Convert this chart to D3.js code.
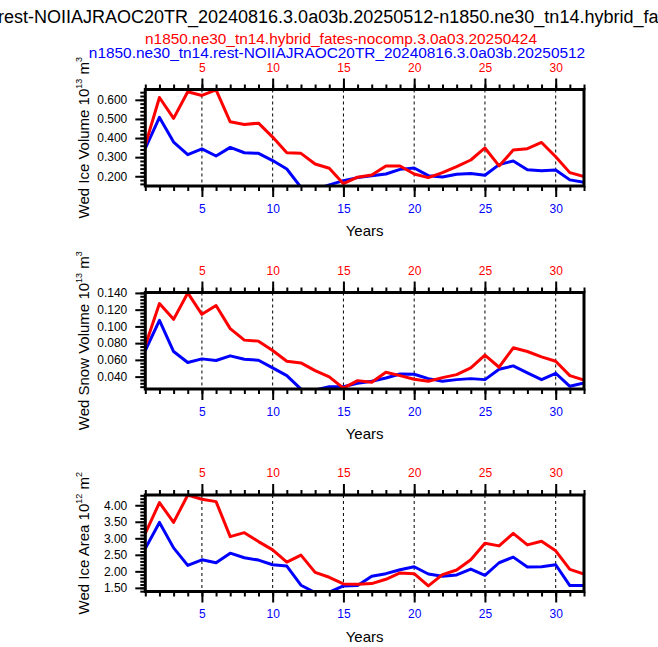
<!DOCTYPE html>
<html>
<head>
<meta charset="utf-8">
<script src="https://cdn.jsdelivr.net/npm/d3@7/dist/d3.min.js"></script>
<style>
  body { margin: 0; background: #fff; }
  text { font-family: "Liberation Sans", Arial, Helvetica, sans-serif; }
</style>
</head>
<body>
<div id="visContainer"></div>
<script>
var width = 658, height = 647;

// ---- data ----
var years = [1,2,3,4,5,6,7,8,9,10,11,12,13,14,15,16,17,18,19,20,21,22,23,24,25,26,27,28,29,30,31,32];
var xLabels = [5,10,15,20,25,30];

var titleText = "n1850.ne30_tn14.rest-NOIIAJRAOC20TR_20240816.3.0a03b.20250512-n1850.ne30_tn14.hybrid_fates-nocomp.3.0a03.20250424";
var titleHidden = "n1850.ne30_tn14.";
var redCase = "n1850.ne30_tn14.hybrid_fates-nocomp.3.0a03.20250424";
var blueCase = "n1850.ne30_tn14.rest-NOIIAJRAOC20TR_20240816.3.0a03b.20250512";

var iceVolRed = [0.363,0.612,0.503,0.642,0.623,0.652,0.485,0.471,0.478,0.405,0.323,0.320,0.264,0.242,0.161,0.195,
                 0.207,0.254,0.254,0.212,0.193,0.219,0.250,0.285,0.348,0.254,0.337,0.344,0.377,0.302,0.219,0.198];
var iceVolBlue = [0.346,0.508,0.379,0.313,0.343,0.306,0.351,0.323,0.320,0.282,0.238,0.142,0.130,0.155,0.177,0.193,
                  0.203,0.212,0.236,0.243,0.203,0.196,0.210,0.214,0.205,0.261,0.280,0.234,0.229,0.233,0.181,0.169];
var iceVolTicks = [0.2,0.3,0.4,0.5,0.6];

var snowVolRed = [0.0772,0.1273,0.1084,0.1400,0.1144,0.1249,0.0973,0.0836,0.0824,0.0712,0.0584,0.0564,0.0472,0.0396,0.0262,0.0352,
                  0.0332,0.0452,0.0412,0.0368,0.0344,0.0388,0.0424,0.0504,0.0656,0.0512,0.0744,0.0700,0.0636,0.0584,0.0412,0.0360];
var snowVolBlue = [0.0712,0.1072,0.0700,0.0568,0.0612,0.0592,0.0648,0.0608,0.0596,0.0504,0.0412,0.0250,0.0240,0.0280,0.0280,0.0320,
                   0.0344,0.0384,0.0432,0.0428,0.0376,0.0344,0.0364,0.0376,0.0364,0.0488,0.0528,0.0444,0.0364,0.0440,0.0284,0.0324];
var snowVolTicks = [0.04,0.06,0.08,0.10,0.12,0.14];

var iceAreaRed = [3.15,4.08,3.48,4.31,4.18,4.11,3.05,3.17,2.90,2.65,2.28,2.49,1.97,1.82,1.62,1.61,
                  1.63,1.76,1.95,1.93,1.56,1.90,2.04,2.35,2.85,2.77,3.15,2.80,2.91,2.62,2.06,1.92];
var iceAreaBlue = [2.69,3.48,2.71,2.18,2.35,2.26,2.55,2.41,2.34,2.20,2.16,1.58,1.36,1.37,1.56,1.57,
                   1.85,1.93,2.05,2.14,1.92,1.85,1.89,2.07,1.88,2.26,2.43,2.13,2.14,2.20,1.57,1.57];
var iceAreaTicks = [1.5,2.0,2.5,3.0,3.5,4.0];

var panels = [
  { name: "Wed Ice Volume ", p10: "13", unit: "3", red: iceVolRed, blue: iceVolBlue,
    yMin: 0.149, yMax: 0.654, ticks: iceVolTicks, minor: 0.02, fmt: ".3f", top: 89.5 },
  { name: "Wed Snow Volume ", p10: "13", unit: "3", red: snowVolRed, blue: snowVolBlue,
    yMin: 0.0252, yMax: 0.1405, ticks: snowVolTicks, minor: 0.004, fmt: ".3f", top: 292.5 },
  { name: "Wed Ice Area ", p10: "12", unit: "2", red: iceAreaRed, blue: iceAreaBlue,
    yMin: 1.39, yMax: 4.31, ticks: iceAreaTicks, minor: 0.1, fmt: ".2f", top: 495 }
];

var plotLeft = 145.3, plotRight = 584, plotH = 96.5;

var svg = d3.select("#visContainer").append("svg")
    .attr("width", width)
    .attr("height", height);

// title, wider than the page, its first part runs off the left edge
var title = svg.append("text")
    .attr("y", 23)
    .attr("font-size", 18)
    .attr("fill", "black")
    .text(titleText);
var tmp = svg.append("text").attr("font-size", 18).text(titleHidden);
var hiddenW = tmp.node().getComputedTextLength();
tmp.remove();
title.attr("x", -hiddenW - 2);

svg.append("text")
    .attr("x", 341).attr("y", 43.5)
    .attr("text-anchor", "middle")
    .attr("font-size", 15.4)
    .attr("fill", "red")
    .text(redCase);
svg.append("text")
    .attr("x", 337).attr("y", 57.5)
    .attr("text-anchor", "middle")
    .attr("font-size", 15.4)
    .attr("fill", "blue")
    .text(blueCase);

var x = d3.scaleLinear().domain([1, 32]).range([plotLeft, plotRight]);

function minorTicks(d0, d1, step) {
  var k0 = Math.ceil(d0 / step - 1e-6), k1 = Math.floor(d1 / step + 1e-6);
  return d3.range(k0, k1 + 1).map(function(k) { return k * step; });
}

function styleAxis(sel, color) {
  sel.select(".domain").remove();
  sel.selectAll(".tick line").attr("stroke", "black").attr("stroke-width", 2);
  sel.selectAll(".tick text").attr("fill", color).attr("font-size", 12)
     .attr("font-family", "\"Liberation Sans\", Arial, sans-serif");
}

panels.forEach(function(p, i) {
  var top = p.top, bottom = p.top + plotH;
  var y = d3.scaleLinear().domain([p.yMin, p.yMax]).range([bottom, top]);

  var g = svg.append("g");

  // dashed grid at major years
  g.selectAll(".grid").data(xLabels).enter().append("line")
      .attr("x1", function(d) { return x(d); })
      .attr("x2", function(d) { return x(d); })
      .attr("y1", top).attr("y2", bottom)
      .attr("stroke", "black")
      .attr("stroke-width", 1)
      .attr("stroke-dasharray", "3,3");

  // clip
  svg.append("clipPath").attr("id", "clip" + i)
    .append("rect")
      .attr("x", plotLeft).attr("y", top)
      .attr("width", plotRight - plotLeft).attr("height", plotH);

  var line = d3.line()
      .x(function(d, j) { return x(years[j]); })
      .y(function(d) { return y(d); });

  g.append("path").datum(p.blue)
      .attr("clip-path", "url(#clip" + i + ")")
      .attr("fill", "none").attr("stroke", "blue").attr("stroke-width", 3)
      .attr("stroke-linejoin", "round")
      .attr("d", line);
  g.append("path").datum(p.red)
      .attr("clip-path", "url(#clip" + i + ")")
      .attr("fill", "none").attr("stroke", "red").attr("stroke-width", 3)
      .attr("stroke-linejoin", "round")
      .attr("d", line);

  // bottom axis (blue labels)
  g.append("g").attr("transform", "translate(0," + bottom + ")")
      .call(d3.axisBottom(x).tickValues(years).tickSize(5).tickFormat(""))
      .call(styleAxis, "blue");
  g.append("g").attr("transform", "translate(0," + bottom + ")")
      .call(d3.axisBottom(x).tickValues(xLabels).tickSize(11).tickPadding(7).tickFormat(d3.format("d")))
      .call(styleAxis, "blue");

  // top axis (red labels)
  g.append("g").attr("transform", "translate(0," + top + ")")
      .call(d3.axisTop(x).tickValues(years).tickSize(5).tickFormat(""))
      .call(styleAxis, "red");
  g.append("g").attr("transform", "translate(0," + top + ")")
      .call(d3.axisTop(x).tickValues(xLabels).tickSize(11).tickPadding(7).tickFormat(d3.format("d")))
      .call(styleAxis, "red");

  // left axis
  g.append("g").attr("transform", "translate(" + plotLeft + ",0)")
      .call(d3.axisLeft(y).tickValues(minorTicks(p.yMin, p.yMax, p.minor)).tickSize(5).tickFormat(""))
      .call(styleAxis, "black");
  g.append("g").attr("transform", "translate(" + plotLeft + ",0)")
      .call(d3.axisLeft(y).tickValues(p.ticks).tickSize(10).tickPadding(8).tickFormat(d3.format(p.fmt)))
      .call(styleAxis, "black");

  // frame
  g.append("rect")
      .attr("x", plotLeft).attr("y", top)
      .attr("width", plotRight - plotLeft).attr("height", plotH)
      .attr("fill", "none").attr("stroke", "black").attr("stroke-width", 3);

  // y label with superscripts
  var yl = g.append("text")
      .attr("transform", "translate(89," + ((top + bottom) / 2) + ") rotate(-90)")
      .attr("text-anchor", "middle")
      .attr("font-size", 15)
      .attr("fill", "black");
  yl.append("tspan").text(p.name + "10");
  yl.append("tspan").attr("font-size", 9).attr("dy", -7).text(p.p10);
  yl.append("tspan").attr("dy", 7).text(" m");
  yl.append("tspan").attr("font-size", 9).attr("dy", -7).text(p.unit);

  // x label
  g.append("text")
      .attr("x", (plotLeft + plotRight) / 2)
      .attr("y", bottom + 50)
      .attr("text-anchor", "middle")
      .attr("font-size", 15)
      .attr("fill", "black")
      .text("Years");
});
</script>
</body>
</html>
